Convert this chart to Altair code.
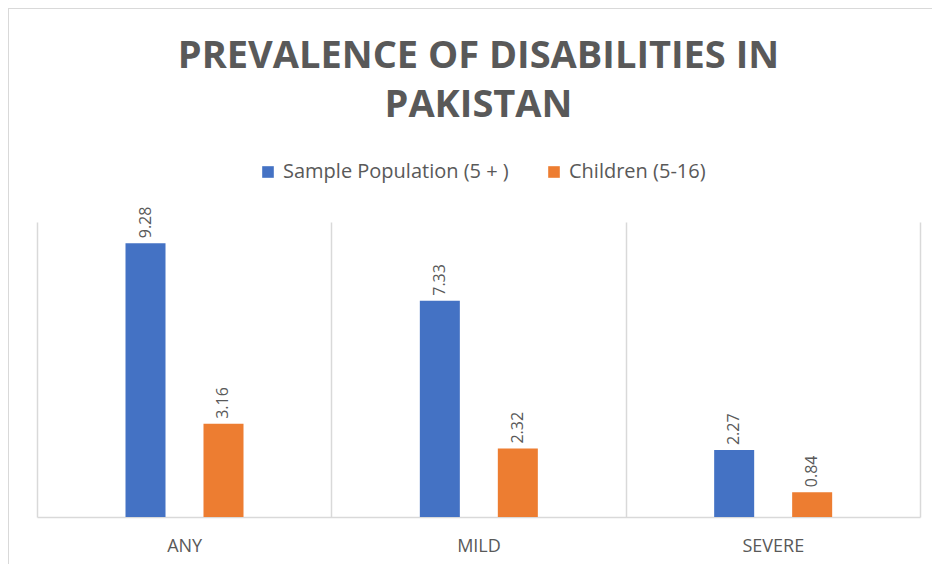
import altair as alt
import pandas as pd

categories = ["ANY", "MILD", "SEVERE"]
series = ["Sample Population (5 + )", "Children (5-16)"]
sample_population = [9.28, 7.33, 2.27]
children = [3.16, 2.32, 0.84]
colors = ["#4472C4", "#ED7D31"]

rows = []
for i, c in enumerate(categories):
    rows.append({"category": c, "series": series[0], "value": sample_population[i]})
    rows.append({"category": c, "series": series[1], "value": children[i]})
df = pd.DataFrame(rows)

FONT = "Open Sans"
TXT = "#595959"
GRID = "#d9d9d9"

base = alt.Chart(df).encode(
    x=alt.X(
        "category:N",
        sort=categories,
        scale=alt.Scale(paddingInner=0, paddingOuter=0),
        axis=alt.Axis(
            title=None,
            labelAngle=0,
            grid=True,
            tickBand="extent",
            ticks=False,
            domainColor=GRID,
            domainWidth=1.5,
            gridColor=GRID,
            gridWidth=1.5,
            labelColor=TXT,
            labelFont=FONT,
            labelFontSize=18,
            labelPadding=20,
        ),
    ),
    xOffset=alt.XOffset(
        "series:N",
        sort=series,
        scale=alt.Scale(range=[88.5, 206.5], paddingInner=0.487, paddingOuter=0),
    ),
)

bars = base.mark_bar().encode(
    y=alt.Y("value:Q", scale=alt.Scale(domain=[0, 10]), axis=None),
    color=alt.Color(
        "series:N",
        sort=series,
        scale=alt.Scale(domain=series, range=colors),
        legend=alt.Legend(
            title=None,
            orient="none",
            legendX=221,
            legendY=-60,
            direction="horizontal",
            labelFont=FONT,
            labelFontSize=20,
            labelColor=TXT,
            labelLimit=400,
            symbolType="square",
            symbolSize=135,
            symbolStrokeWidth=0,
            columnPadding=35,
            labelOffset=5,
        ),
    ),
)

labels = base.mark_text(
    angle=270, align="left", baseline="middle", dx=5, fontSize=16, color=TXT, font=FONT
).encode(
    y=alt.Y("value:Q"),
    text=alt.Text("value:Q", format=".2f"),
)

frame_df = pd.DataFrame({"f": [0]})
frame_top = alt.Chart(frame_df).mark_rule(color=GRID, strokeWidth=2).encode(
    x=alt.value(-29), x2=alt.value(920), y=alt.value(-214)
)
frame_left = alt.Chart(frame_df).mark_rule(color=GRID, strokeWidth=2).encode(
    x=alt.value(-29), y=alt.value(-214), y2=alt.value(400)
)

chart = (
    alt.layer(frame_top, frame_left, bars, labels)
    .properties(
        width=883,
        height=295,
        padding={"left": 29, "top": 214, "right": 12, "bottom": 47},
        autosize=alt.AutoSizeParams(type="none"),
        title=alt.TitleParams(
            ["PREVALENCE OF DISABILITIES IN", "PAKISTAN"],
            font=FONT,
            fontSize=38,
            fontWeight="bold",
            color=TXT,
            lineHeight=49,
            anchor="middle",
            offset=-118,
        ),
    )
    .configure_view(stroke=None)
)

chart.save("out.html", embed_options={"renderer": "svg", "actions": False})
